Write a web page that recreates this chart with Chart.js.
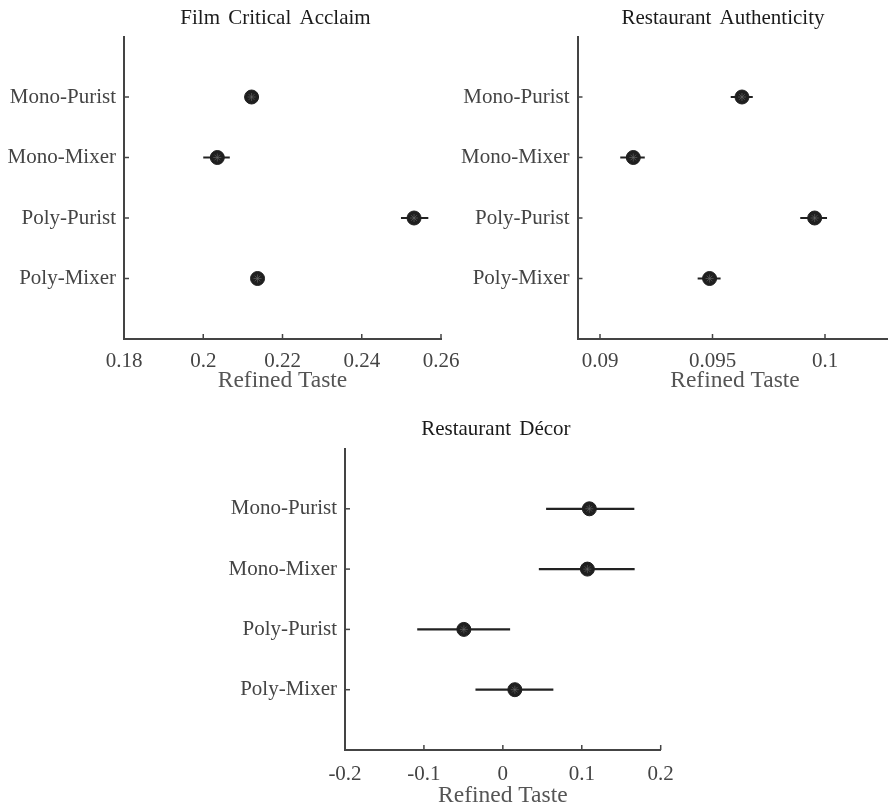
<!DOCTYPE html>
<html>
<head>
<meta charset="utf-8">
<script src="https://cdn.jsdelivr.net/npm/chart.js@4.4.1/dist/chart.umd.min.js"></script>
<style>
  html, body { margin: 0; padding: 0; background: #fff; width: 888px; height: 810px; overflow: hidden; }
  canvas { position: absolute; }
</style>
</head>
<body>
<canvas id="c1" width="470" height="400" style="left:0px;top:0px"></canvas>
<canvas id="c2" width="470" height="400" style="left:440px;top:0px"></canvas>
<canvas id="c3" width="490" height="410" style="left:200px;top:400px"></canvas>
<script>
// ---------------- data ----------------
const categories = ['Mono-Purist', 'Mono-Mixer', 'Poly-Purist', 'Poly-Mixer'];
const axisLabel = 'Refined Taste';

const filmTitle = 'Film Critical Acclaim';
const filmMeans = [0.2122, 0.20355, 0.2532, 0.2137];
const filmLow   = [0.2110, 0.2000, 0.2499, 0.2125];
const filmHigh  = [0.2134, 0.2067, 0.2568, 0.2149];
const filmTicks = [0.18, 0.2, 0.22, 0.24, 0.26];
const filmRange = [0.18, 0.26];

const authTitle = 'Restaurant Authenticity';
const authMeans = [0.09631, 0.09148, 0.09954, 0.09487];
const authLow   = [0.09581, 0.09090, 0.09890, 0.09434];
const authHigh  = [0.09679, 0.09199, 0.10009, 0.09536];
const authTicks = [0.09, 0.095, 0.1];
const authRange = [0.089, 0.103];

const decorTitle = 'Restaurant D\u00e9cor';
const decorMeans = [0.1096, 0.1071, -0.0494, 0.0152];
const decorLow   = [0.0548, 0.0456, -0.1085, -0.0347];
const decorHigh  = [0.1666, 0.1670, 0.0092, 0.0640];
const decorTicks = [-0.2, -0.1, 0, 0.1, 0.2];
const decorRange = [-0.2, 0.2];

// ---------------- helpers ----------------
const SERIF = '"Liberation Serif", "Times New Roman", serif';
const AXIS_COLOR = '#444';

const panelPlugin = {
  id: 'panelDecor',
  afterDraw(chart, args, opts) {
    const ctx = chart.ctx;
    const area = chart.chartArea;
    const xs = chart.scales.x, ys = chart.scales.y;
    ctx.save();
    // inward tick marks
    ctx.strokeStyle = AXIS_COLOR;
    ctx.lineWidth = 1.5;
    xs.ticks.forEach(t => {
      const px = xs.getPixelForValue(t.value);
      ctx.beginPath(); ctx.moveTo(px, area.bottom); ctx.lineTo(px, area.bottom - 5); ctx.stroke();
    });
    ys.ticks.forEach(t => {
      const py = ys.getPixelForValue(t.value);
      ctx.beginPath(); ctx.moveTo(area.left, py); ctx.lineTo(area.left + 5, py); ctx.stroke();
    });
    // panel title
    ctx.fillStyle = '#1a1a1a';
    ctx.font = '21px ' + SERIF;
    if ('wordSpacing' in ctx) ctx.wordSpacing = '3px';
    ctx.textAlign = 'center';
    ctx.textBaseline = 'alphabetic';
    ctx.fillText(opts.text, (area.left + area.right) / 2 + opts.dx, opts.baseline);
    ctx.restore();
  }
};

function makePanel(id, title, means, low, high, ticks, range, layout) {
  const errorSets = categories.map((c, i) => ({
    type: 'line',
    data: [{ x: low[i], y: i + 1 }, { x: high[i], y: i + 1 }],
    borderColor: '#222',
    borderWidth: 2.2,
    pointRadius: 0,
    order: 3
  }));
  const pointSet = {
    type: 'scatter',
    data: means.map((m, i) => ({ x: m, y: i + 1 })),
    backgroundColor: '#1f1f1f',
    borderColor: '#1f1f1f',
    borderWidth: 1,
    pointRadius: 7,
    order: 2
  };
  const starSet = {
    type: 'scatter',
    data: means.map((m, i) => ({ x: m, y: i + 1 })),
    pointStyle: 'star',
    backgroundColor: 'rgba(0,0,0,0)',
    borderColor: '#6a6a6a',
    borderWidth: 0.6,
    pointRadius: 4,
    order: 1
  };
  return new Chart(document.getElementById(id), {
    type: 'scatter',
    data: { datasets: [starSet, pointSet, ...errorSets] },
    plugins: [panelPlugin],
    options: {
      responsive: false,
      animation: false,
      devicePixelRatio: 1,
      layout: { padding: { left: 0, top: layout.top, right: layout.right, bottom: 0 } },
      plugins: {
        legend: { display: false },
        tooltip: { enabled: false },
        panelDecor: { text: title, dx: layout.titleDx, baseline: layout.titleBaseline }
      },
      scales: {
        x: {
          type: 'linear',
          min: range[0],
          max: range[1],
          afterBuildTicks: s => { s.ticks = ticks.map(v => ({ value: v })); },
          afterFit: s => { s.height = layout.xHeight; },
          ticks: {
            autoSkip: false, maxRotation: 0, padding: layout.tickPad,
            color: '#444',
            font: { family: SERIF, size: 21 },
            callback: v => String(v)
          },
          grid: { display: true, drawOnChartArea: false, drawTicks: false },
          border: { display: true, color: AXIS_COLOR, width: 2 },
          title: {
            display: true, text: axisLabel, color: '#555',
            font: { family: SERIF, size: 23.5 },
            padding: { top: 0, bottom: layout.titlePad }
          }
        },
        y: {
          type: 'linear',
          min: 0,
          max: 5,
          reverse: true,
          afterBuildTicks: s => { s.ticks = categories.map((c, i) => ({ value: i + 1 })); },
          afterFit: s => { s.width = layout.yWidth; },
          ticks: {
            autoSkip: false, padding: 8,
            color: '#444',
            font: { family: SERIF, size: 21 },
            callback: v => categories[v - 1] || ''
          },
          grid: { display: true, drawOnChartArea: false, drawTicks: false },
          border: { display: true, color: AXIS_COLOR, width: 2 }
        }
      }
    }
  });
}

makePanel('c1', filmTitle, filmMeans, filmLow, filmHigh, filmTicks, filmRange,
  { top: 36.5, right: 29, yWidth: 124, xHeight: 61, titleDx: -7, titleBaseline: 23.5, tickPad: 10, titlePad: 5 });
makePanel('c2', authTitle, authMeans, authLow, authHigh, authTicks, authRange,
  { top: 36.5, right: 17.5, yWidth: 137.5, xHeight: 61, titleDx: -12, titleBaseline: 23.5, tickPad: 10, titlePad: 5 });
makePanel('c3', decorTitle, decorMeans, decorLow, decorHigh, decorTicks, decorRange,
  { top: 48.5, right: 29.3, yWidth: 145, xHeight: 60, titleDx: -7, titleBaseline: 35, tickPad: 12, titlePad: 0 });
</script>
</body>
</html>
